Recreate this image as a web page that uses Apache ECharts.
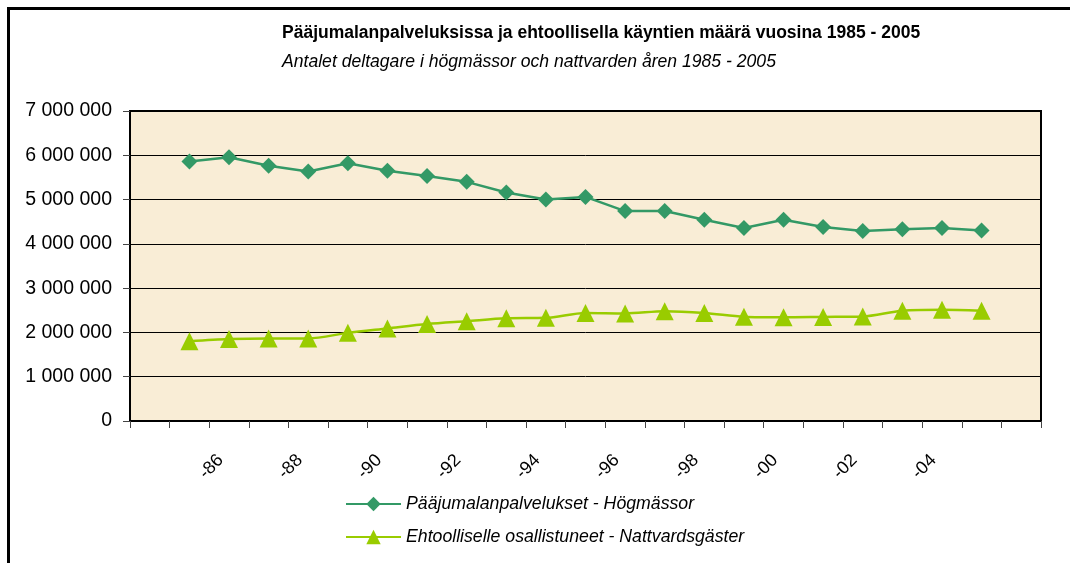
<!DOCTYPE html>
<html>
<head>
<meta charset="utf-8">
<script src="https://cdn.jsdelivr.net/npm/echarts@6/dist/echarts.min.js"></script>
<style>
  html, body { margin: 0; padding: 0; background: #fff; }
  #container { width: 1070px; height: 563px; }
</style>
</head>
<body>
<div id="container"></div>
<script>
// vuodet, tyhjä paikka alussa ja lopussa kuten alkuperäisessä kuvassa
var years = ['', '-85', '-86', '-87', '-88', '-89', '-90', '-91', '-92', '-93', '-94', '-95',
             '-96', '-97', '-98', '-99', '-00', '-01', '-02', '-03', '-04', '-05', ''];
// Pääjumalanpalvelukset - Högmässor
var hogmassor = [null, 5860000, 5955000, 5765000, 5635000, 5820000, 5650000, 5530000, 5400000,
                 5160000, 5000000, 5060000, 4740000, 4740000, 4545000, 4360000, 4545000,
                 4380000, 4290000, 4330000, 4360000, 4300000, null];
// Ehtoolliselle osallistuneet - Nattvardsgäster
var nattvard = [null, 1800000, 1850000, 1865000, 1865000, 1990000, 2090000, 2190000, 2255000,
                2320000, 2330000, 2440000, 2430000, 2480000, 2440000, 2355000, 2340000,
                2350000, 2360000, 2490000, 2510000, 2490000, null];
var seriesNames = ['Pääjumalanpalvelukset - Högmässor', 'Ehtoolliselle osallistuneet - Nattvardsgäster'];

var FONT = '"Liberation Sans", Arial, sans-serif';

var myChart = echarts.init(document.getElementById('container'));
myChart.setOption({
    backgroundColor: '#fff',
    animation: false,
    title: {
        left: 282,
        top: 24,
        text: 'Pääjumalanpalveluksissa ja ehtoollisella käyntien määrä vuosina 1985 - 2005',
        subtext: 'Antalet deltagare i högmässor och nattvarden åren 1985 - 2005',
        padding: 0,
        itemGap: 11,
        textStyle: { fontFamily: FONT, fontSize: 17.5, fontWeight: 'bold', color: '#000' },
        subtextStyle: { fontFamily: FONT, fontSize: 17.6, fontStyle: 'italic', color: '#000' }
    },
    // kehys koko kuvan ympärillä
    graphic: [{
        type: 'rect',
        shape: { x: 8.5, y: 8.5, width: 1200, height: 700 },
        style: { fill: 'none', stroke: '#000', lineWidth: 3 },
        silent: true
    }],
    legend: {
        orient: 'vertical',
        left: 345,
        top: 495,
        padding: 0,
        itemWidth: 55,
        itemHeight: 18,
        itemGap: 15,
        data: seriesNames,
        textStyle: { fontFamily: FONT, fontSize: 17.7, fontStyle: 'italic', color: '#000' }
    },
    grid: {
        left: 130,
        right: 29,
        top: 111,
        bottom: 142,
        show: true,
        backgroundColor: '#F9EDD6',
        borderColor: '#000',
        borderWidth: 2
    },
    xAxis: {
        type: 'category',
        data: years,
        boundaryGap: true,
        axisLine: { show: true, lineStyle: { color: '#000', width: 2 } },
        axisTick: { show: true, interval: 0, length: 7, lineStyle: { color: '#444', width: 1 } },
        axisLabel: {
            interval: 1,
            rotate: 45,
            margin: 28,
            padding: [0, 12, 0, 0],
            fontFamily: FONT,
            fontSize: 18,
            color: '#000'
        },
        splitLine: { show: false }
    },
    yAxis: {
        type: 'value',
        min: 0,
        max: 7000000,
        interval: 1000000,
        axisLine: { show: true, lineStyle: { color: '#000', width: 2 } },
        axisTick: { show: true, length: 7, lineStyle: { color: '#444', width: 1 } },
        axisLabel: {
            margin: 18,
            fontFamily: FONT,
            fontSize: 19.5,
            color: '#000',
            formatter: function (v) {
                return String(v).replace(/\B(?=(\d{3})+(?!\d))/g, ' ');
            }
        },
        splitLine: { show: true, lineStyle: { color: '#000', width: 1 } }
    },
    series: [{
        name: seriesNames[0],
        type: 'line',
        data: hogmassor,
        symbol: 'diamond',
        symbolSize: 16,
        itemStyle: { color: '#339966' },
        lineStyle: { color: '#339966', width: 2.5 }
    }, {
        name: seriesNames[1],
        type: 'line',
        data: nattvard,
        smooth: 0.3,
        symbol: 'triangle',
        symbolSize: 18,
        itemStyle: { color: '#99CC00' },
        lineStyle: { color: '#99CC00', width: 2.5 }
    }]
});
</script>
</body>
</html>
